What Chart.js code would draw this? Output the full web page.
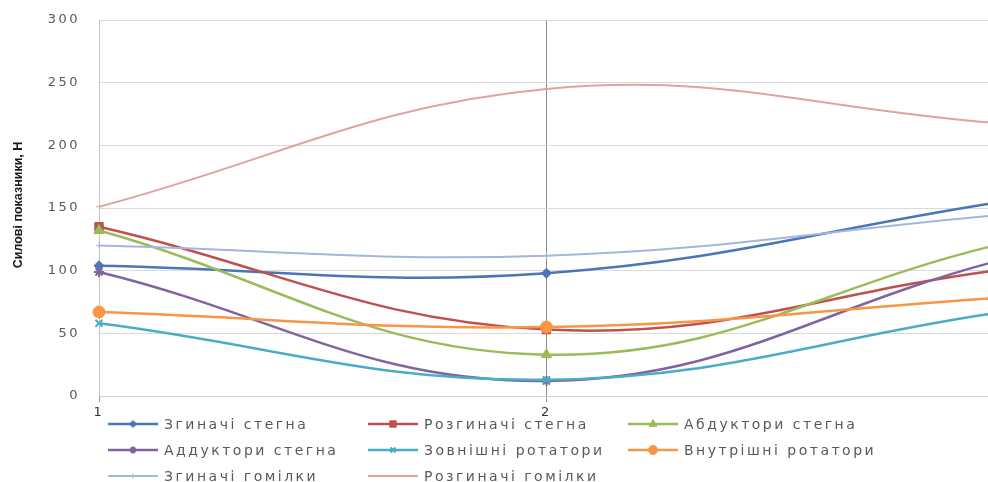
<!DOCTYPE html>
<html>
<head>
<meta charset="utf-8">
<script src="https://cdn.jsdelivr.net/npm/chart.js@4.4.1/dist/chart.umd.min.js"></script>
<style>
  html, body { margin: 0; padding: 0; background: #fff; overflow: hidden; }
  #wrap { width: 1001px; height: 482px; position: relative; }
</style>
</head>
<body>
<div id="wrap"><canvas id="c"></canvas></div>
<script>
// Measurement points along the x axis
const categories = ['1', '2', '3'];

// Muscle-group strength readings, N
const hipFlexors       = [104, 98, 154];   // Згиначі стегна
const hipExtensors     = [135, 53, 100];   // Розгиначі стегна
const hipAbductors     = [132, 33, 120];   // Абдуктори стегна
const hipAdductors     = [99, 12, 107];    // Аддуктори стегна
const externalRotators = [58, 13, 66];     // Зовнішні ротатори
const internalRotators = [67, 55, 78];     // Внутрішні ротатори
const kneeFlexors      = [120, 112, 144];  // Згиначі гомілки
const kneeExtensors    = [151, 245, 218];  // Розгиначі гомілки

const seriesNames = [
  'Згиначі стегна', 'Розгиначі стегна', 'Абдуктори стегна',
  'Аддуктори стегна', 'Зовнішні ротатори', 'Внутрішні ротатори',
  'Згиначі гомілки', 'Розгиначі гомілки'
];

const yTicks = [0, 50, 100, 150, 200, 250, 300];
const yTitle = 'Силові показники, Н';

const seriesValues = [
  hipFlexors, hipExtensors, hipAbductors, hipAdductors,
  externalRotators, internalRotators, kneeFlexors, kneeExtensors
];
const seriesColors = ['#4a76b8', '#c0504d', '#9bbb59', '#8064a2', '#4bacc6', '#f79646', '#a3b6dc', '#dfa3a1'];
const seriesMarkers = ['rectRot', 'rect', 'triangle', 'star', 'crossRot', 'circle', 'cross', 'line'];
const markerRadius = [5, 6, 6, 5, 5, 6, 3, 3];
const lineWidths = [2.5, 2.5, 2.5, 2.5, 2.5, 2.5, 2, 2];

const datasets = seriesValues.map((values, i) => ({
  label: seriesNames[i],
  data: values,
  borderColor: seriesColors[i],
  backgroundColor: seriesColors[i],
  pointBackgroundColor: seriesColors[i],
  pointBorderColor: seriesColors[i],
  pointStyle: seriesMarkers[i],
  pointRadius: markerRadius[i],
  pointHoverRadius: markerRadius[i],
  pointBorderWidth: (seriesMarkers[i] === 'star' || seriesMarkers[i] === 'crossRot') ? 2 : 1,
  borderWidth: lineWidths[i],
  tension: 0.4,
  fill: false,
  order: -i            // later series are painted over earlier ones
}));

// Wide, spaced lettering for the axis labels
const textSpacing = {
  id: 'textSpacing',
  beforeDraw(chart) { chart.ctx.letterSpacing = '2.5px'; },
  afterDatasetsDraw(chart) { chart.ctx.letterSpacing = '0px'; }
};

// Three-column legend under the plot plus the rotated value-axis title
const gridLegend = {
  id: 'gridLegend',
  afterDraw(chart, args, opts) {
    const ctx = chart.ctx;
    ctx.save();
    ctx.letterSpacing = '0px';
    ctx.font = 'bold 12.5px "Liberation Sans Narrow", "Liberation Sans", sans-serif';
    ctx.fillStyle = '#1a1a1a';
    ctx.textAlign = 'center';
    ctx.textBaseline = 'middle';
    ctx.translate(opts.titleX, opts.titleY);
    ctx.rotate(-Math.PI / 2);
    ctx.fillText(yTitle, 0, 0);
    ctx.restore();

    chart.data.datasets.forEach((ds, i) => {
      const x = opts.columns[i % 3];
      const y = opts.rows[Math.floor(i / 3)];
      ctx.save();
      ctx.strokeStyle = ds.borderColor;
      ctx.lineWidth = ds.borderWidth;
      ctx.beginPath();
      ctx.moveTo(x, y);
      ctx.lineTo(x + opts.sample, y);
      ctx.stroke();
      ctx.fillStyle = ds.pointBackgroundColor;
      ctx.strokeStyle = ds.pointBorderColor;
      ctx.lineWidth = ds.pointBorderWidth;
      Chart.helpers.drawPoint(ctx, {
        pointStyle: ds.pointStyle,
        radius: Math.max(2.5, ds.pointRadius - 1.5),
        rotation: 0,
        borderWidth: ds.pointBorderWidth
      }, x + opts.sample / 2, y);
      ctx.letterSpacing = '2.5px';
      ctx.font = '14px "DejaVu Sans", sans-serif';
      ctx.fillStyle = '#595959';
      ctx.textAlign = 'left';
      ctx.textBaseline = 'middle';
      ctx.fillText(ds.label, x + opts.sample + 6, y + 1);
      ctx.restore();
    });
  }
};

new Chart(document.getElementById('c'), {
  type: 'line',
  data: { labels: categories, datasets },
  plugins: [textSpacing, gridLegend],
  options: {
    responsive: true,
    maintainAspectRatio: false,
    animation: false,
    events: [],
    layout: { padding: { top: 20, left: 0, right: 6, bottom: 62 } },
    plugins: {
      legend: { display: false },
      tooltip: { enabled: false },
      title: { display: false },
      gridLegend: {
        titleX: 19,
        titleY: 205,
        columns: [108, 368, 628],
        rows: [424, 450, 476],
        sample: 50
      }
    },
    scales: {
      x: {
        offset: false,
        afterFit(scale) { scale.height = 24; },
        grid: {
          drawTicks: true,
          tickLength: 6,
          lineWidth: 1,
          color: (c) => c.index === 1 ? '#8c8c8c' : 'rgba(0,0,0,0)',
          tickColor: '#9a9a9a'
        },
        border: { color: '#d0d0d0', width: 1 },
        ticks: {
          padding: 3,
          color: '#333333',
          font: { family: '"DejaVu Sans", sans-serif', size: 13 },
          maxRotation: 0
        }
      },
      y: {
        min: 0,
        max: 300,
        afterFit(scale) { scale.width = 99; },
        afterBuildTicks(scale) { scale.ticks = yTicks.map(v => ({ value: v })); },
        grid: {
          color: '#dadada',
          lineWidth: 1,
          drawTicks: true,
          tickLength: 18,
          tickColor: 'rgba(0,0,0,0)'
        },
        border: { color: '#c4c4c4', width: 1 },
        ticks: {
          padding: 1,
          color: '#595959',
          font: { family: '"DejaVu Sans", sans-serif', size: 13 }
        }
      }
    }
  }
});
</script>
</body>
</html>
